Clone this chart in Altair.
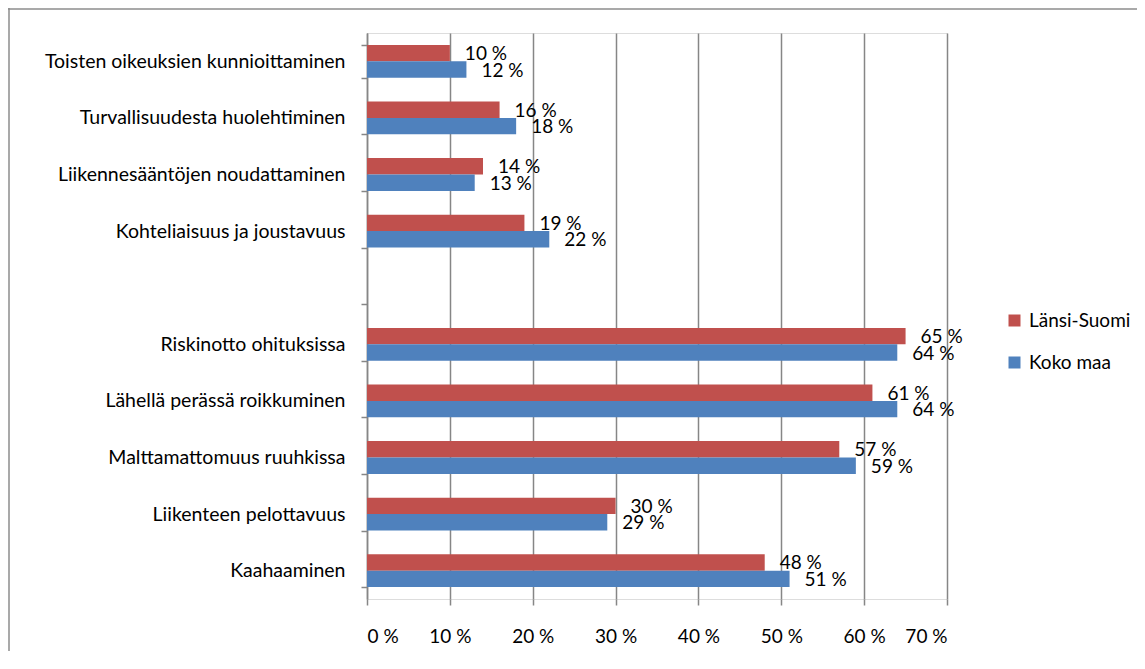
import altair as alt
import pandas as pd

categories = [
    "Toisten oikeuksien kunnioittaminen",
    "Turvallisuudesta huolehtiminen",
    "Liikennesääntöjen noudattaminen",
    "Kohteliaisuus ja joustavuus",
    "Riskinotto ohituksissa",
    "Lähellä perässä roikkuminen",
    "Malttamattomuus ruuhkissa",
    "Liikenteen pelottavuus",
    "Kaahaaminen",
]
# order of the category slots on the axis (one blank slot between the groups)
axis_slots = categories[:4] + [" "] + categories[4:]

series = ["Länsi-Suomi", "Koko maa"]
lansi_suomi = [10, 16, 14, 19, 65, 61, 57, 30, 48]
koko_maa = [12, 18, 13, 22, 64, 64, 59, 29, 51]
x_ticks = [0, 10, 20, 30, 40, 50, 60, 70]
colors = ["#C0504D", "#4F81BD"]

rows = []
for c, a, b in zip(categories, lansi_suomi, koko_maa):
    rows.append({"cat": c, "series": series[0], "v": a})
    rows.append({"cat": c, "series": series[1], "v": b})
df = pd.DataFrame(rows)

W, H = 580, 566
PAD = {"left": 359, "top": 25, "right": 190, "bottom": 52}
FONT = "Lato"

y_enc = alt.Y(
    "cat:N",
    scale=alt.Scale(domain=axis_slots, paddingInner=0.42, paddingOuter=0.21),
    axis=alt.Axis(
        title=None, labelFontSize=19.5, labelFont=FONT, labelColor="#000000",
        labelPadding=16, tickSize=6, tickBand="extent", tickColor="#868686",
        domainColor="#868686", domainWidth=1.5, tickWidth=1.5, grid=False,
        labelLimit=400,
    ),
)
yoff = alt.YOffset("series:N", scale=alt.Scale(domain=series))
x_enc = alt.X(
    "v:Q",
    scale=alt.Scale(domain=[0, 70], nice=False),
    axis=alt.Axis(
        title=None, values=x_ticks, labelExpr="datum.value + ' %'",
        labelFontSize=19, labelFont=FONT, labelColor="#000000",
        labelPadding=22, tickSize=6, tickColor="#868686", tickWidth=1.5,
        domain=False, grid=True, gridColor="#868686", gridWidth=1.5,
    ),
)

bars = alt.Chart(df).mark_bar().encode(
    y=y_enc,
    yOffset=yoff,
    x=x_enc,
    color=alt.Color(
        "series:N",
        scale=alt.Scale(domain=series, range=colors),
        legend=alt.Legend(
            title=None, orient="none", legendX=638, legendY=278,
            symbolType="square", symbolSize=144, symbolStrokeWidth=0,
            labelFontSize=19, labelFont=FONT, labelColor="#000000",
            rowPadding=22, labelOffset=5, labelLimit=200,
        ),
    ),
)

labels = alt.Chart(df).transform_calculate(
    lab="datum.v + ' %'"
).mark_text(
    align="left", baseline="middle", dx=15, dy=1, fontSize=19, font=FONT,
    color="#000000",
).encode(
    y=alt.Y("cat:N", scale=alt.Scale(domain=axis_slots)),
    yOffset=yoff,
    x=alt.X("v:Q"),
    text="lab:N",
)

frame_df = pd.DataFrame({"k": [0]})
frame_top = alt.Chart(frame_df).mark_rule(color="#8c8c8c", strokeWidth=1.5).encode(
    x=alt.value(-PAD["left"]), x2=alt.value(W + PAD["right"]), y=alt.value(-PAD["top"] + 1)
)
frame_left = alt.Chart(frame_df).mark_rule(color="#8c8c8c", strokeWidth=1.5).encode(
    x=alt.value(-PAD["left"] + 1), y=alt.value(-PAD["top"]), y2=alt.value(H + PAD["bottom"])
)

chart = alt.layer(bars, labels, frame_top, frame_left).properties(
    width=W, height=H,
    autosize=alt.AutoSizeParams(type="none"),
    padding=PAD,
).configure_view(stroke=None).configure(background="white")

chart.save("out.html", embed_options={"renderer": "svg", "actions": False})
